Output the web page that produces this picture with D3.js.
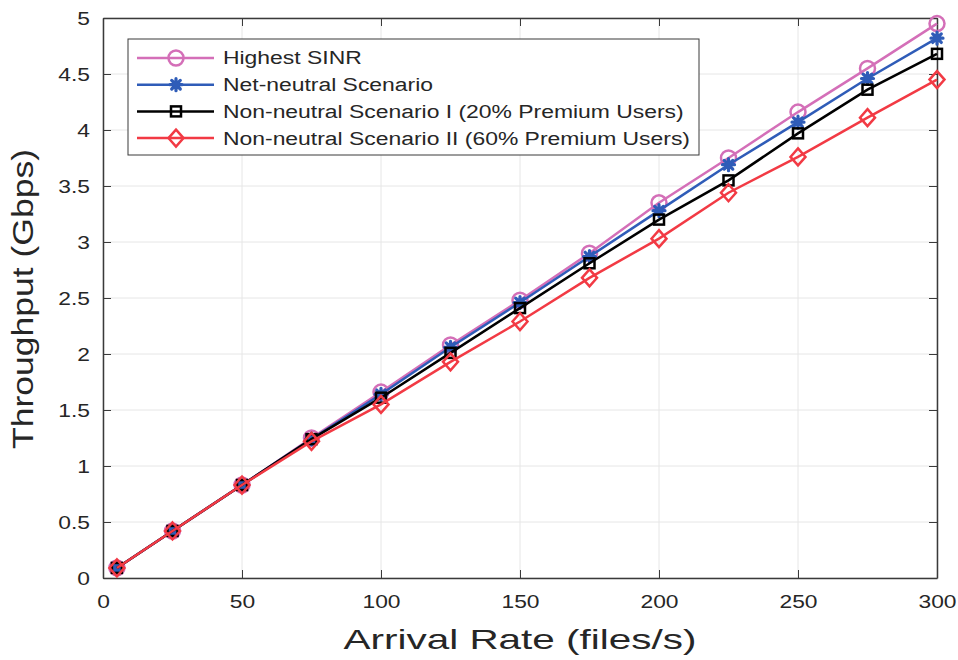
<html>
<head>
<meta charset="UTF-8">
<title>Throughput vs Arrival Rate</title>
<script src="https://cdn.jsdelivr.net/npm/d3@7"></script>
<style>
  body { margin: 0; background: #fff; }
  svg text { font-family: "Liberation Sans", Arial, sans-serif; fill: #262626; }
</style>
</head>
<body>
<svg id="chart" width="958" height="660"></svg>
<script>
// ---- data ----
var arrivalRate = [5, 25, 50, 75, 100, 125, 150, 175, 200, 225, 250, 275, 300];
var highestSinr = [0.09, 0.42, 0.83, 1.25, 1.66, 2.08, 2.48, 2.90, 3.35, 3.75, 4.16, 4.55, 4.95];
var netNeutral  = [0.09, 0.42, 0.83, 1.24, 1.64, 2.06, 2.46, 2.87, 3.28, 3.69, 4.07, 4.46, 4.82];
var nonNeutral1 = [0.09, 0.42, 0.83, 1.24, 1.61, 2.01, 2.41, 2.81, 3.20, 3.55, 3.97, 4.36, 4.68];
var nonNeutral2 = [0.09, 0.42, 0.83, 1.22, 1.55, 1.93, 2.29, 2.68, 3.03, 3.44, 3.76, 4.11, 4.45];
var xTicks = [0, 50, 100, 150, 200, 250, 300];
var yTicks = [0, 0.5, 1, 1.5, 2, 2.5, 3, 3.5, 4, 4.5, 5];
var seriesNames = ["Highest SINR", "Net-neutral Scenario",
  "Non-neutral Scenario I (20% Premium Users)", "Non-neutral Scenario II (60% Premium Users)"];

var series = [
  { name: seriesNames[0], values: highestSinr, color: "#d46fb8", marker: "circle" },
  { name: seriesNames[1], values: netNeutral,  color: "#2f5cb8", marker: "star" },
  { name: seriesNames[2], values: nonNeutral1, color: "#000000", marker: "square" },
  { name: seriesNames[3], values: nonNeutral2, color: "#f23a44", marker: "diamond" }
];

var svg = d3.select("#chart");
var L = 103, R = 937, T = 18, B = 578;
var x = d3.scaleLinear().domain([0, 300]).range([L, R]);
var y = d3.scaleLinear().domain([0, 5]).range([B, T]);

// the source figure was stretched sideways, so widen text to match
function stretch(sel, k) {
  sel.each(function () {
    var w = this.getComputedTextLength();
    if (w > 0) d3.select(this).attr("textLength", w * k).attr("lengthAdjust", "spacingAndGlyphs");
  });
}

// grid
svg.append("g").selectAll("line").data(xTicks).enter().append("line")
  .attr("x1", function (d) { return x(d); }).attr("x2", function (d) { return x(d); })
  .attr("y1", T).attr("y2", B).attr("stroke", "#e6e6e6").attr("stroke-width", 1);
svg.append("g").selectAll("line").data(yTicks).enter().append("line")
  .attr("y1", function (d) { return y(d); }).attr("y2", function (d) { return y(d); })
  .attr("x1", L).attr("x2", R).attr("stroke", "#e6e6e6").attr("stroke-width", 1);

// axes (ticks inward, box)
function styleAxis(g) {
  g.select(".domain").attr("stroke", "#3a3a3a").attr("stroke-width", 1.5);
  g.selectAll(".tick line").attr("stroke", "#3a3a3a").attr("stroke-width", 1);
  g.selectAll(".tick text").style("font-size", "19px").call(stretch, 1.2);
}
var fmt = function (d) { return String(d); };
svg.append("g").attr("transform", "translate(0," + B + ")")
  .call(d3.axisBottom(x).tickValues(xTicks).tickFormat(fmt).tickSizeInner(-8).tickSizeOuter(0).tickPadding(17))
  .call(styleAxis);
svg.append("g").attr("transform", "translate(" + L + ",0)")
  .call(d3.axisLeft(y).tickValues(yTicks).tickFormat(fmt).tickSizeInner(-8).tickSizeOuter(0).tickPadding(13))
  .call(styleAxis);
svg.append("g").attr("transform", "translate(0," + T + ")")
  .call(d3.axisTop(x).tickValues(xTicks).tickFormat("").tickSizeInner(-8).tickSizeOuter(0))
  .call(styleAxis);
svg.append("g").attr("transform", "translate(" + R + ",0)")
  .call(d3.axisRight(y).tickValues(yTicks).tickFormat("").tickSizeInner(-8).tickSizeOuter(0))
  .call(styleAxis);

// marker drawing
function drawMarker(g, type, color) {
  if (type === "circle") {
    g.append("circle").attr("r", 7.5).attr("fill", "none").attr("stroke", color).attr("stroke-width", 2.5);
  } else if (type === "square") {
    g.append("rect").attr("x", -5).attr("y", -5).attr("width", 10).attr("height", 10)
      .attr("fill", "none").attr("stroke", color).attr("stroke-width", 2.5);
  } else if (type === "diamond") {
    g.append("path").attr("d", "M0,-8.5L7.5,0L0,8.5L-7.5,0Z")
      .attr("fill", "none").attr("stroke", color).attr("stroke-width", 2.5);
  } else {
    // matlab-style asterisk drawn with thick strokes
    g.append("path").attr("d", "M-6,0L6,0M0,-6L0,6M-4.3,-4.3L4.3,4.3M-4.3,4.3L4.3,-4.3")
      .attr("fill", "none").attr("stroke", color).attr("stroke-width", 3.2)
      .attr("stroke-linecap", "round");
    g.append("circle").attr("r", 3.5).attr("fill", color);
  }
}

var line = d3.line()
  .x(function (d, i) { return x(arrivalRate[i]); })
  .y(function (d) { return y(d); });

series.forEach(function (s) {
  var g = svg.append("g");
  g.append("path").datum(s.values).attr("d", line)
    .attr("fill", "none").attr("stroke", s.color).attr("stroke-width", 2.5);
  g.selectAll(".m").data(s.values).enter().append("g")
    .attr("transform", function (d, i) { return "translate(" + x(arrivalRate[i]) + "," + y(d) + ")"; })
    .each(function () { drawMarker(d3.select(this), s.marker, s.color); });
});

// legend
var lg = svg.append("g");
lg.append("rect").attr("x", 128).attr("y", 39).attr("width", 571).attr("height", 116)
  .attr("fill", "#fff").attr("stroke", "#3a3a3a").attr("stroke-width", 1);
series.forEach(function (s, i) {
  var yy = 58 + i * 26.7;
  lg.append("line").attr("x1", 137).attr("x2", 214).attr("y1", yy).attr("y2", yy)
    .attr("stroke", s.color).attr("stroke-width", 2.5);
  var mg = lg.append("g").attr("transform", "translate(176," + yy + ")");
  drawMarker(mg, s.marker, s.color);
  lg.append("text").attr("x", 223).attr("y", yy).attr("dy", "0.36em")
    .style("font-size", "18px").text(s.name);
});
var longest = lg.selectAll("text").nodes()[3].getComputedTextLength();
lg.selectAll("text").call(stretch, 467 / longest);

// axis titles
svg.append("text").attr("x", x(150)).attr("y", 649).attr("text-anchor", "middle")
  .style("font-size", "28px").text("Arrival Rate (files/s)")
  .attr("textLength", 353).attr("lengthAdjust", "spacingAndGlyphs");
svg.append("text").attr("transform", "translate(33," + ((T + B) / 2 + 1) + ") rotate(-90)")
  .attr("text-anchor", "middle").style("font-size", "29px").text("Throughput (Gbps)")
  .attr("textLength", 300).attr("lengthAdjust", "spacingAndGlyphs");
</script>
</body>
</html>
